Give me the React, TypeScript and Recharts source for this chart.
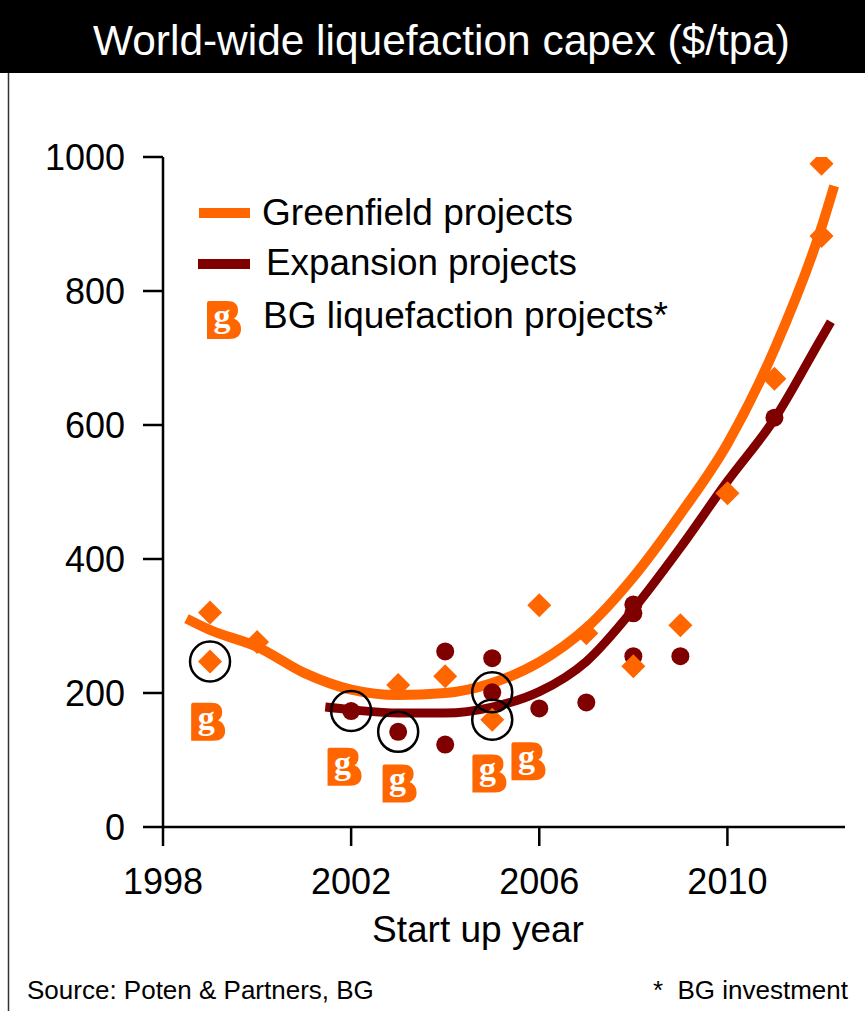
import React from 'react';
import { ComposedChart, Line, Scatter, XAxis, YAxis } from 'recharts';

const FONT = '"Liberation Sans", Arial, Helvetica, sans-serif';
const ORANGE = '#FF6600';
const MAROON = '#800000';

const xTicks = [1998, 2002, 2006, 2010];
const yTicks = [0, 200, 400, 600, 800, 1000];

// Greenfield projects (orange diamonds)
const greenfieldPoints = [
  { x: 1999, y: 320 },
  { x: 1999, y: 247 },
  { x: 2000, y: 276 },
  { x: 2003, y: 212 },
  { x: 2004, y: 225 },
  { x: 2005, y: 160 },
  { x: 2006, y: 331 },
  { x: 2007, y: 289 },
  { x: 2008, y: 240 },
  { x: 2009, y: 301 },
  { x: 2010, y: 498 },
  { x: 2011, y: 669 },
  { x: 2012, y: 990 },
  { x: 2012, y: 882 },
];

// Expansion projects (dark red dots)
const expansionPoints = [
  { x: 2002, y: 173 },
  { x: 2003, y: 142 },
  { x: 2004, y: 262 },
  { x: 2004, y: 123 },
  { x: 2005, y: 252 },
  { x: 2005, y: 201 },
  { x: 2006, y: 177 },
  { x: 2007, y: 186 },
  { x: 2008, y: 332 },
  { x: 2008, y: 319 },
  { x: 2008, y: 255 },
  { x: 2009, y: 255 },
  { x: 2011, y: 611 },
];

// Trend curves
const greenfieldTrend = [
  { x: 1998.5, y: 311 },
  { x: 1999, y: 294 },
  { x: 2000, y: 269 },
  { x: 2001, y: 230 },
  { x: 2002, y: 205 },
  { x: 2003, y: 197 },
  { x: 2004, y: 200 },
  { x: 2005, y: 215 },
  { x: 2006, y: 246 },
  { x: 2007, y: 297 },
  { x: 2008, y: 373 },
  { x: 2009, y: 467 },
  { x: 2010, y: 572 },
  { x: 2011, y: 713 },
  { x: 2012, y: 895 },
  { x: 2012.27, y: 957 },
];

const expansionTrend = [
  { x: 2001.45, y: 179 },
  { x: 2002, y: 175 },
  { x: 2003, y: 170 },
  { x: 2004, y: 170 },
  { x: 2005, y: 179 },
  { x: 2006, y: 202 },
  { x: 2007, y: 247 },
  { x: 2008, y: 325 },
  { x: 2009, y: 417 },
  { x: 2010, y: 516 },
  { x: 2011, y: 609 },
  { x: 2012, y: 730 },
  { x: 2012.2, y: 754 },
];

// BG projects (circled points) and BG logo marks
const bgCircled = [
  { x: 1999, y: 247 },
  { x: 2002, y: 173 },
  { x: 2003, y: 142 },
  { x: 2005, y: 201 },
  { x: 2005, y: 160 },
];

const bgLogoMarks = [
  { x: 1998.96, y: 157 },
  { x: 2001.86, y: 90 },
  { x: 2003.03, y: 65 },
  { x: 2004.94, y: 80 },
  { x: 2005.77, y: 98 },
];

const Diamond = (props: any) => {
  const { cx, cy } = props;
  if (cx == null || cy == null) return <g />;
  const r = 12;
  return <path d={`M${cx},${cy - r} L${cx + r},${cy} L${cx},${cy + r} L${cx - r},${cy} Z`} fill={ORANGE} />;
};

const Dot = (props: any) => {
  const { cx, cy } = props;
  if (cx == null || cy == null) return <g />;
  return <circle cx={cx} cy={cy} r={9} fill={MAROON} />;
};

const Ring = (props: any) => {
  const { cx, cy } = props;
  if (cx == null || cy == null) return <g />;
  return <circle cx={cx} cy={cy} r={20} fill="none" stroke="#000" strokeWidth={2.5} />;
};

const BGLogo = ({ cx, cy }: { cx: number; cy: number }) => {
  const x0 = cx - 17;
  const y0 = cy - 19;
  return (
    <g transform={`translate(${x0},${y0})`}>
      <path
        d="M0,2 Q0,0 2,0 H20 Q31,0 31,9.5 Q31,15 27,17.5 Q34,20.5 34,28 Q34,38 22,38 H0 Z"
        fill={ORANGE}
      />
      <text
        x={15}
        y={26}
        textAnchor="middle"
        fontFamily='"Liberation Serif", "DejaVu Serif", serif'
        fontWeight="bold"
        fontSize={34}
        fill="#fff"
      >
        g
      </text>
    </g>
  );
};

const LogoShape = (props: any) => {
  const { cx, cy } = props;
  if (cx == null || cy == null) return <g />;
  return <BGLogo cx={cx} cy={cy} />;
};

export default function App() {
  return (
    <div style={{ position: 'absolute', left: 0, top: 0, width: 865, height: 1011, background: '#fff' }}>
      <div style={{ position: 'absolute', left: 0, top: 0 }}>
        <ComposedChart
          width={865}
          height={1011}
          margin={{ top: 157, right: 20, bottom: 124, left: 93 }}
        >
          <XAxis
            type="number"
            dataKey="x"
            domain={[1998, 2012.5]}
            ticks={xTicks}
            allowDataOverflow
            height={60}
            axisLine={{ stroke: '#000', strokeWidth: 2.5 }}
            tickLine={{ stroke: '#000', strokeWidth: 2.5 }}
            tickSize={19}
            tickMargin={22}
            tick={{ fill: '#000', fontSize: 36, fontFamily: FONT }}
          />
          <YAxis
            type="number"
            dataKey="y"
            domain={[0, 1000]}
            ticks={yTicks}
            allowDataOverflow
            width={70}
            axisLine={{ stroke: '#000', strokeWidth: 2.5 }}
            tickLine={{ stroke: '#000', strokeWidth: 2.5 }}
            tickSize={20}
            tickMargin={18}
            tick={{ fill: '#000', fontSize: 36, fontFamily: FONT }}
          />
          <Line
            data={greenfieldTrend}
            dataKey="y"
            type="monotone"
            stroke={ORANGE}
            strokeWidth={10}
            strokeLinecap="butt"
            dot={false}
            activeDot={false}
            isAnimationActive={false}
          />
          <Line
            data={expansionTrend}
            dataKey="y"
            type="monotone"
            stroke={MAROON}
            strokeWidth={9}
            strokeLinecap="butt"
            dot={false}
            activeDot={false}
            isAnimationActive={false}
          />
          <Scatter data={expansionPoints} dataKey="y" shape={Dot} isAnimationActive={false} />
          <Scatter data={greenfieldPoints} dataKey="y" shape={Diamond} isAnimationActive={false} />
          <Scatter data={bgCircled} dataKey="y" shape={Ring} isAnimationActive={false} />
          <Scatter data={bgLogoMarks} dataKey="y" shape={LogoShape} isAnimationActive={false} />
        </ComposedChart>
      </div>
      <svg
        width={865}
        height={1011}
        style={{ position: 'absolute', left: 0, top: 0, pointerEvents: 'none' }}
      >
        <rect x={0} y={0} width={865} height={73} fill="#000" />
        <text
          x={93}
          y={55}
          fill="#fff"
          fontFamily={FONT}
          fontSize={43}
          textLength={697}
          lengthAdjust="spacingAndGlyphs"
        >
          World-wide liquefaction capex ($/tpa)
        </text>
        <line x1={8.5} y1={73} x2={8.5} y2={1011} stroke="#333" strokeWidth={1.5} />

        {/* Legend */}
        <rect x={199} y={208} width={51} height={10} fill={ORANGE} />
        <text x={262} y={225} fontFamily={FONT} fontSize={37} fill="#000" textLength={311} lengthAdjust="spacingAndGlyphs">
          Greenfield projects
        </text>
        <rect x={198} y={259} width={52} height={10} fill={MAROON} />
        <text x={266} y={275} fontFamily={FONT} fontSize={37} fill="#000" textLength={311} lengthAdjust="spacingAndGlyphs">
          Expansion projects
        </text>
        <BGLogo cx={224} cy={320} />
        <text x={263} y={328} fontFamily={FONT} fontSize={37} fill="#000" textLength={405} lengthAdjust="spacingAndGlyphs">
          BG liquefaction projects*
        </text>

        {/* Axis title */}
        <text x={478} y={942} textAnchor="middle" fontFamily={FONT} fontSize={37} fill="#000">
          Start up year
        </text>

        {/* Footer */}
        <text x={27} y={999} fontFamily={FONT} fontSize={26} fill="#000">
          Source: Poten &amp; Partners, BG
        </text>
        <text x={653} y={999} fontFamily={FONT} fontSize={26} fill="#000">
          *
        </text>
        <text x={848} y={999} textAnchor="end" fontFamily={FONT} fontSize={26} fill="#000">
          BG investment
        </text>
      </svg>
    </div>
  );
}
